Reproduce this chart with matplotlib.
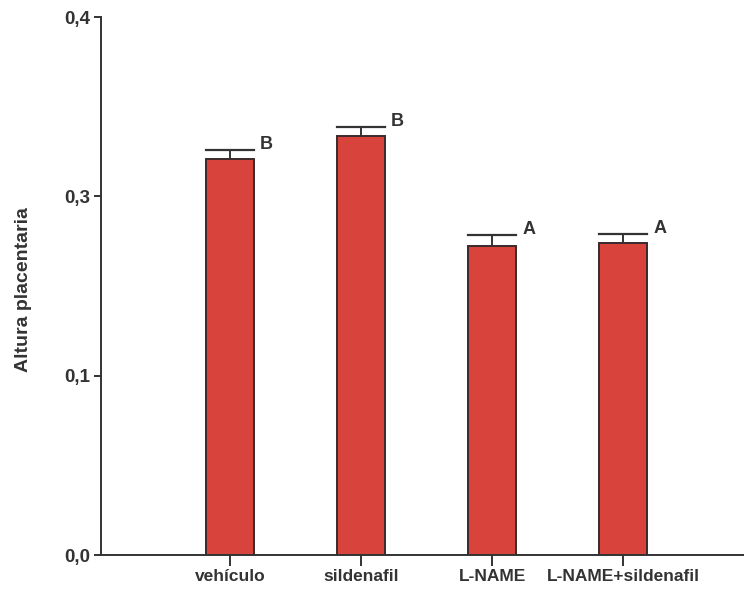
import matplotlib
matplotlib.use("Agg")
import matplotlib.pyplot as plt

plt.rcParams['font.family'] = ['Liberation Sans', 'DejaVu Sans']

grupos = ['vehículo', 'sildenafil', 'L-NAME', 'L-NAME+sildenafil']
altura = [0.2209, 0.2337, 0.1723, 0.1740]
error = [0.0050, 0.0050, 0.0062, 0.0050]
letras = ['B', 'B', 'A', 'A']
ytick_pos = [0.0, 0.1, 0.2, 0.3]
ytick_lab = ['0,0', '0,1', '0,3', '0,4']

gris = '#333333'
ancho = 0.37

fig = plt.figure(figsize=(7.44, 5.89), dpi=100)
ax = fig.add_axes([0.1358, 0.0577, 0.8642, 0.9134])

x = range(len(grupos))
ax.bar(x, altura, width=ancho, color='#d8433c', edgecolor='#3a2a2a',
       linewidth=1.4, zorder=2)

# barras de error solo hacia arriba, con tapa del ancho de la barra
for i, (h, e, l) in enumerate(zip(altura, error, letras)):
    ax.plot([i, i], [h, h + e], color=gris, lw=1.4, zorder=3)
    ax.plot([i - ancho / 2, i + ancho / 2], [h + e, h + e], color=gris,
            lw=1.6, zorder=3)
    ax.text(i + ancho / 2 + 0.045, h + e + 0.003, l, color=gris,
            fontsize=13, fontweight='bold', ha='left', va='center')

ax.set_xlim(-0.985, 3.924)
ax.set_ylim(0, 0.3)
ax.set_yticks(ytick_pos)
ax.set_yticklabels(ytick_lab)
ax.set_xticks(list(x))
ax.set_xticklabels(grupos)

ax.spines['top'].set_visible(False)
ax.spines['right'].set_visible(False)
for s in ('left', 'bottom'):
    ax.spines[s].set_color(gris)
    ax.spines[s].set_linewidth(1.4)

ax.tick_params(axis='y', direction='out', length=5, width=1.4, color=gris,
               labelsize=13.5, labelcolor=gris, pad=3)
ax.tick_params(axis='x', direction='out', length=8, width=1.4, color=gris,
               labelsize=12.5, labelcolor=gris, pad=2)
for t in ax.get_xticklabels() + ax.get_yticklabels():
    t.set_fontweight('bold')

ax.set_ylabel('Altura placentaria', fontsize=14, fontweight='bold',
              color=gris)
ax.yaxis.set_label_coords(-0.107, 0.494)

fig.savefig('out.png', dpi=100)
